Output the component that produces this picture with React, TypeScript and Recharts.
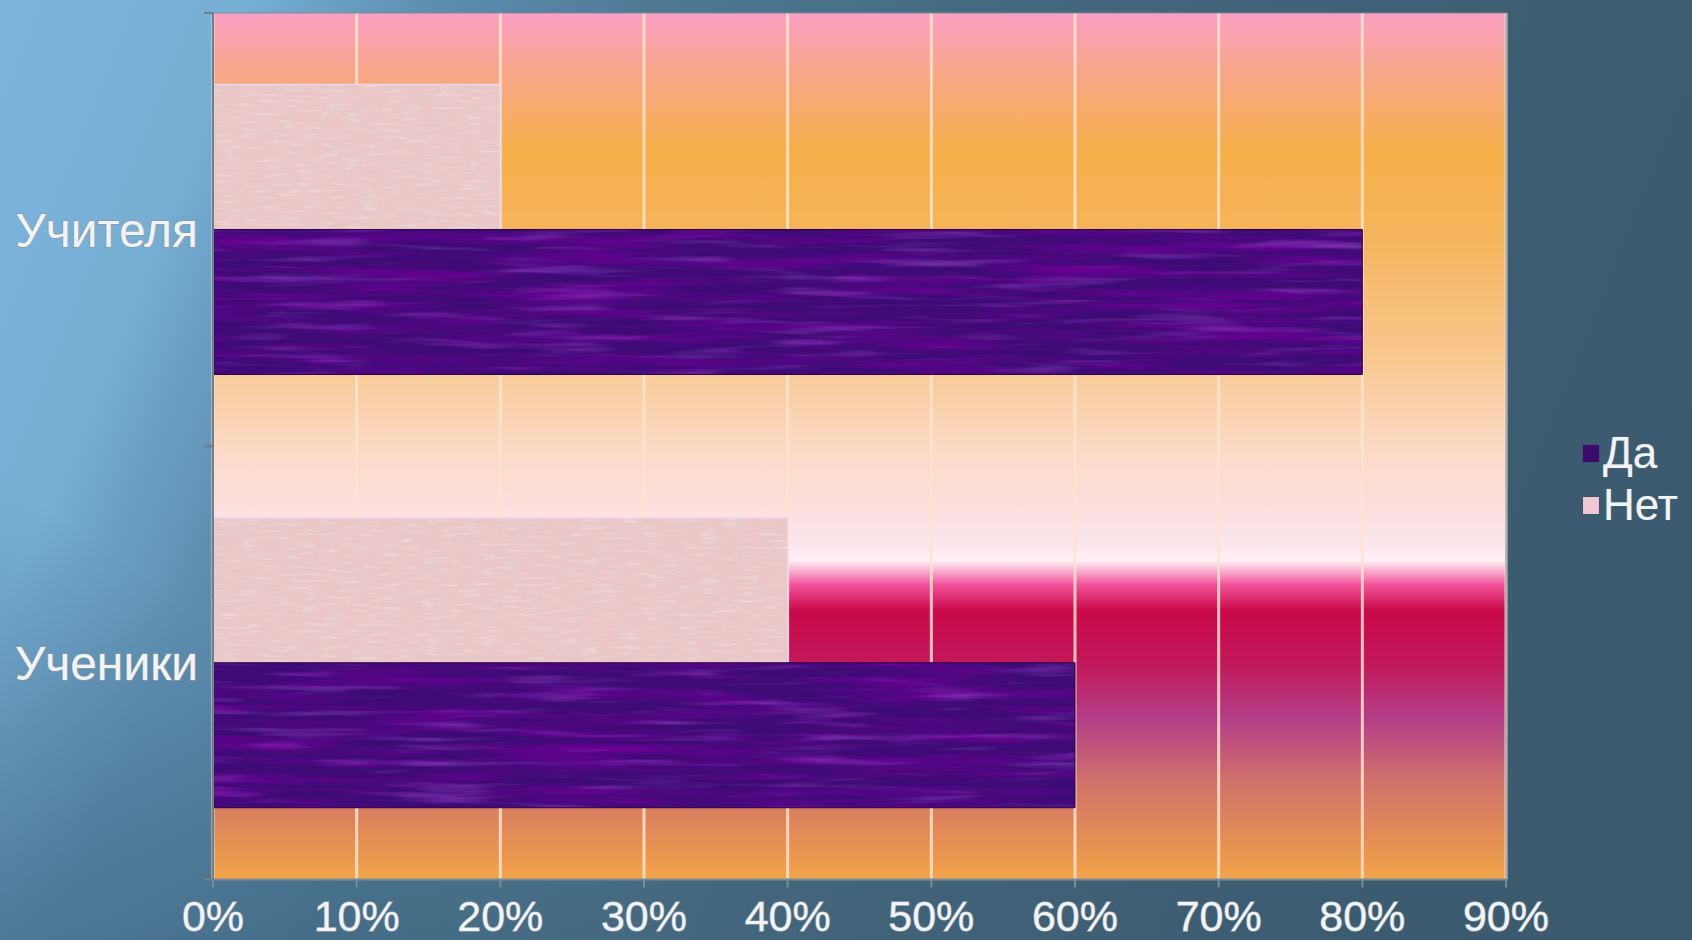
import React from 'react';
import {
  BarChart,
  Bar,
  XAxis,
  YAxis,
  CartesianGrid,
  Legend,
  ReferenceArea,
} from 'recharts';

const categories = ['Учителя', 'Ученики'];
const daValues = [80, 60];
const netValues = [20, 40];
const xTicks = [0, 10, 20, 30, 40, 50, 60, 70, 80, 90];
const seriesNames = { da: 'Да', net: 'Нет' };

const data = categories.map((c, i) => ({ name: c, da: daValues[i], net: netValues[i] }));

const FONT = '"Liberation Sans", Arial, sans-serif';
const TEXT_FILL = '#f1f3f5';
const TEXT_STROKE = '#8c9aa3';

const XTick = (props: any) => {
  const { x, y, payload } = props;
  return (
    <text
      x={x}
      y={y}
      dy="0.71em"
      textAnchor="middle"
      fontFamily={FONT}
      fontSize={43}
      fill={TEXT_FILL}
      stroke={TEXT_STROKE}
      strokeWidth={1.3}
      style={{ paintOrder: 'stroke' }}
    >
      {`${payload.value}%`}
    </text>
  );
};

const YTick = (props: any) => {
  const { x, y, payload } = props;
  const off = payload && typeof payload.offset === 'number' ? payload.offset : 0;
  const axisX = x + 15;
  return (
    <g>
      <text
        x={x}
        y={y}
        dy="0.355em"
        textAnchor="end"
        fontFamily={FONT}
        fontSize={48}
        fill={TEXT_FILL}
        stroke={TEXT_STROKE}
        strokeWidth={1.3}
        style={{ paintOrder: 'stroke' }}
      >
        {payload.value}
      </text>
      {off > 0 && (
        <>
          <line x1={axisX - 9} x2={axisX} y1={y - off} y2={y - off} stroke="#6f7f88" strokeWidth={2} />
          <line x1={axisX - 9} x2={axisX} y1={y + off} y2={y + off} stroke="#6f7f88" strokeWidth={2} />
        </>
      )}
    </g>
  );
};

const LegendContent = () => {
  const items = [
    { name: seriesNames.da, color: '#3d0a6e' },
    { name: seriesNames.net, color: '#efc8d0' },
  ];
  return (
    <div style={{ fontFamily: FONT, fontSize: 44, lineHeight: '52px', color: TEXT_FILL }}>
      {items.map((it) => (
        <div key={it.name} style={{ display: 'flex', alignItems: 'center', whiteSpace: 'nowrap' }}>
          <span
            style={{
              display: 'inline-block',
              width: 16,
              height: 17,
              background: it.color,
              marginRight: 4,
              boxShadow: '0 0 1px rgba(0,0,0,0.4)',
            }}
          />
          <span style={{ textShadow: '0 0 1px #6d7d87, 0 0 1px #6d7d87' }}>{it.name}</span>
        </div>
      ))}
    </div>
  );
};

export default function App() {
  return (
    <div
      style={{
        position: 'absolute',
        left: 0,
        top: 0,
        width: 1692,
        height: 940,
        overflow: 'hidden',
        background:
          'linear-gradient(35deg, rgba(38,66,90,0.35) 0%, rgba(38,66,90,0) 22%), linear-gradient(112deg, #7db6dd 0%, #76aed4 12%, #5d8eb0 21%, #4c7792 33%, #43677d 52%, #3d5d72 75%, #3a596d 100%)',
      }}
    >
      <BarChart
        width={1692}
        height={940}
        data={data}
        layout="vertical"
        margin={{ top: 13, right: 186, bottom: 0, left: 0 }}
        barGap={0}
        barCategoryGap="16.5%"
      >
        <defs>
          <linearGradient id="plotBg" x1="0" y1="0" x2="0" y2="1">
            <stop offset="0" stopColor="#fa9fc4" />
            <stop offset="0.075" stopColor="#f8a784" />
            <stop offset="0.16" stopColor="#f6b04a" />
            <stop offset="0.26" stopColor="#f6b45c" />
            <stop offset="0.40" stopColor="#f8c890" />
            <stop offset="0.505" stopColor="#fbdac6" />
            <stop offset="0.61" stopColor="#fde4ec" />
            <stop offset="0.632" stopColor="#fff0f6" />
            <stop offset="0.66" stopColor="#f2529a" />
            <stop offset="0.69" stopColor="#c90848" />
            <stop offset="0.75" stopColor="#c2185a" />
            <stop offset="0.815" stopColor="#b33f88" />
            <stop offset="0.885" stopColor="#d0706c" />
            <stop offset="0.94" stopColor="#e08858" />
            <stop offset="1" stopColor="#f2a448" />
          </linearGradient>
          <filter id="noiseDaDark" x="0" y="0" width="100%" height="100%">
            <feTurbulence type="fractalNoise" baseFrequency="0.006 0.09" numOctaves={4} seed={7} />
            <feColorMatrix
              type="matrix"
              values="0 0 0 0 0.16  0 0 0 0 0.0  0 0 0 0 0.3  2.0 0 0 0 -0.85"
            />
          </filter>
          <filter id="noiseDaLight" x="0" y="0" width="100%" height="100%">
            <feTurbulence type="fractalNoise" baseFrequency="0.008 0.12" numOctaves={3} seed={19} />
            <feColorMatrix
              type="matrix"
              values="0 0 0 0 0.36  0 0 0 0 0.08  0 0 0 0 0.66  1.4 0 0 0 -0.75"
            />
          </filter>
          <filter id="noiseNet" x="0" y="0" width="100%" height="100%">
            <feTurbulence type="fractalNoise" baseFrequency="0.04 0.25" numOctaves={3} seed={3} />
            <feColorMatrix
              type="matrix"
              values="0 0 0 0 0.78  0 0 0 0 0.64  0 0 0 0 0.66  1.4 0 0 0 -0.7"
            />
          </filter>
          <filter id="noiseNetLight" x="0" y="0" width="100%" height="100%">
            <feTurbulence type="fractalNoise" baseFrequency="0.05 0.3" numOctaves={2} seed={11} />
            <feColorMatrix
              type="matrix"
              values="0 0 0 0 0.96  0 0 0 0 0.88  0 0 0 0 0.88  1.2 0 0 0 -0.65"
            />
          </filter>
          <pattern id="patDa" patternUnits="userSpaceOnUse" width="1400" height="300">
            <rect width="1400" height="300" fill="#3f0a78" />
            <rect width="1400" height="300" filter="url(#noiseDaDark)" />
            <rect width="1400" height="300" filter="url(#noiseDaLight)" />
          </pattern>
          <pattern id="patNet" patternUnits="userSpaceOnUse" width="800" height="300">
            <rect width="800" height="300" fill="#e9c7c6" />
            <rect width="800" height="300" filter="url(#noiseNet)" />
            <rect width="800" height="300" filter="url(#noiseNetLight)" />
          </pattern>
        </defs>
        <CartesianGrid
          horizontal={false}
          vertical={true}
          fill="url(#plotBg)"
          fillOpacity={1}
          stroke="#ffe4cc"
          strokeOpacity={0.85}
          strokeWidth={3}
        />
        <XAxis
          type="number"
          domain={[0, 90]}
          ticks={xTicks}
          interval={0}
          height={60.5}
          axisLine={{ stroke: '#7c8a92', strokeWidth: 2 }}
          tickLine={{ stroke: '#7c8a92', strokeWidth: 2 }}
          tickSize={8}
          tickMargin={13}
          tick={<XTick />}
        />
        <YAxis
          type="category"
          dataKey="name"
          width={213}
          axisLine={{ stroke: '#6f7f88', strokeWidth: 2 }}
          tickLine={false}
          tickSize={0}
          tickMargin={15}
          tick={<YTick />}
        />
        <Bar
          dataKey="net"
          name={seriesNames.net}
          fill="url(#patNet)"
          stroke="#f2d6ee"
          strokeWidth={1.5}
          isAnimationActive={false}
        />
        <Bar
          dataKey="da"
          name={seriesNames.da}
          fill="url(#patDa)"
          stroke="#2c0046"
          strokeWidth={1}
          isAnimationActive={false}
        />
        <ReferenceArea x1={0} x2={90} fill="none" stroke="#7c8a92" strokeOpacity={0.6} strokeWidth={1.5} />
        <Legend
          layout="vertical"
          align="center"
          verticalAlign="middle"
          content={<LegendContent />}
          wrapperStyle={{ left: 1583, top: 427, width: 109, height: 104 }}
        />
      </BarChart>
    </div>
  );
}
